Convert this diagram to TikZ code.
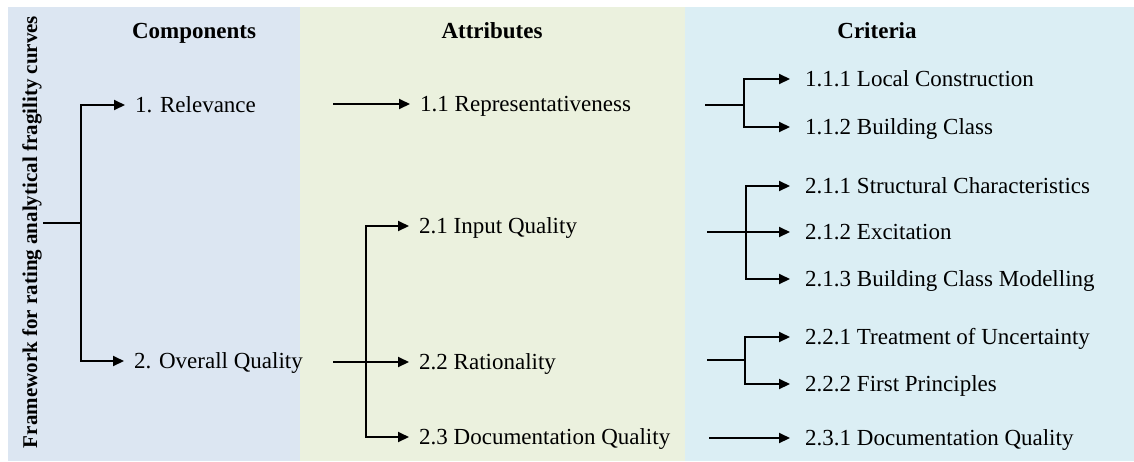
\documentclass[tikz,border=0pt]{standalone}
\usepackage{fontspec}
\setmainfont{Liberation Serif}
\usetikzlibrary{arrows.meta}
\definecolor{panelA}{HTML}{DCE6F2}
\definecolor{panelB}{HTML}{EBF1DE}
\definecolor{panelC}{HTML}{DBEEF4}
\begin{document}
\begin{tikzpicture}[x=1pt,y=-1pt,
  conn/.style={line width=2pt},
  arr/.style={line width=2pt,-{Triangle[length=11pt,width=10pt]}},
  lab/.style={font=\fontsize{23}{27}\selectfont, anchor=west, inner ysep=0pt, text height=15pt, text depth=0pt},
  lvltwo/.style={lab, inner xsep=10pt},
  lvlthree/.style={lab, inner xsep=15pt},
  head/.style={font=\fontsize{23}{27}\selectfont\bfseries, inner sep=0pt, text height=15pt, text depth=0pt}]
\useasboundingbox (0,0) rectangle (1134,461);
\fill[panelA] (8,7) rectangle (300,461);
\fill[panelB] (300,7) rectangle (685,461);
\fill[panelC] (685,7) rectangle (1134,461);
% headings
\node[head] (hcomp) at (194,31) {Components};
\node[head] (hattr) at (492,31) {Attributes};
\node[head] (hcrit) at (877,31) {Criteria};
\node[rotate=90, font=\fontsize{21}{25}\selectfont\bfseries, inner sep=0pt, text height=14pt, text depth=0pt] (title) at (30,232) {Framework for rating analytical fragility curves};
% components
\node[lvltwo] (rel) at (125,105) {1. Relevance};
\node[lvltwo] (oq) at (124,361) {2. Overall Quality};
% attributes
\node[lvltwo] (rep) at (410,104) {1.1 Representativeness};
\node[lvltwo] (iq) at (409,226) {2.1 Input Quality};
\node[lvltwo] (rat) at (409,362) {2.2 Rationality};
\node[lvltwo] (doc) at (409,437) {2.3 Documentation Quality};
% criteria
\node[lvlthree] (c111) at (790,79) {1.1.1 Local Construction};
\node[lvlthree] (c112) at (790,127) {1.1.2 Building Class};
\node[lvlthree] (c211) at (790,186) {2.1.1 Structural Characteristics};
\node[lvlthree] (c212) at (790,232) {2.1.2 Excitation};
\node[lvlthree] (c213) at (790,279) {2.1.3 Building Class Modelling};
\node[lvlthree] (c221) at (790,337) {2.2.1 Treatment of Uncertainty};
\node[lvlthree] (c222) at (790,384) {2.2.2 First Principles};
\node[lvlthree] (c231) at (790,438) {2.3.1 Documentation Quality};
% connectors: components
\coordinate (r0) at (43,223);
\coordinate (j1) at (81,223);
\draw[conn] (r0) -- (j1);
\draw[arr] (j1) |- (rel.west);
\draw[arr] (j1) |- (oq.west);
% connectors: attributes
\coordinate (s11) at (333,104);
\draw[arr] (s11) -- (rep.west);
\coordinate (s2) at (333,362);
\coordinate (j2) at (366,362);
\draw[arr] (s2) -- (rat.west);
\draw[arr] (j2) |- (iq.west);
\draw[arr] (j2) |- (doc.west);
% connectors: criteria
\coordinate (s3a) at (705,105);
\coordinate (j3a) at (744,105);
\draw[conn] (s3a) -- (j3a);
\draw[arr] (j3a) |- (c111.west);
\draw[arr] (j3a) |- (c112.west);
\coordinate (s3b) at (707,232);
\coordinate (j3b) at (746,232);
\draw[arr] (s3b) -- (c212.west);
\draw[arr] (j3b) |- (c211.west);
\draw[arr] (j3b) |- (c213.west);
\coordinate (s3c) at (707,360);
\coordinate (j3c) at (745,360);
\draw[conn] (s3c) -- (j3c);
\draw[arr] (j3c) |- (c221.west);
\draw[arr] (j3c) |- (c222.west);
\coordinate (s3d) at (709,438);
\draw[arr] (s3d) -- (c231.west);
\end{tikzpicture}
\end{document}
